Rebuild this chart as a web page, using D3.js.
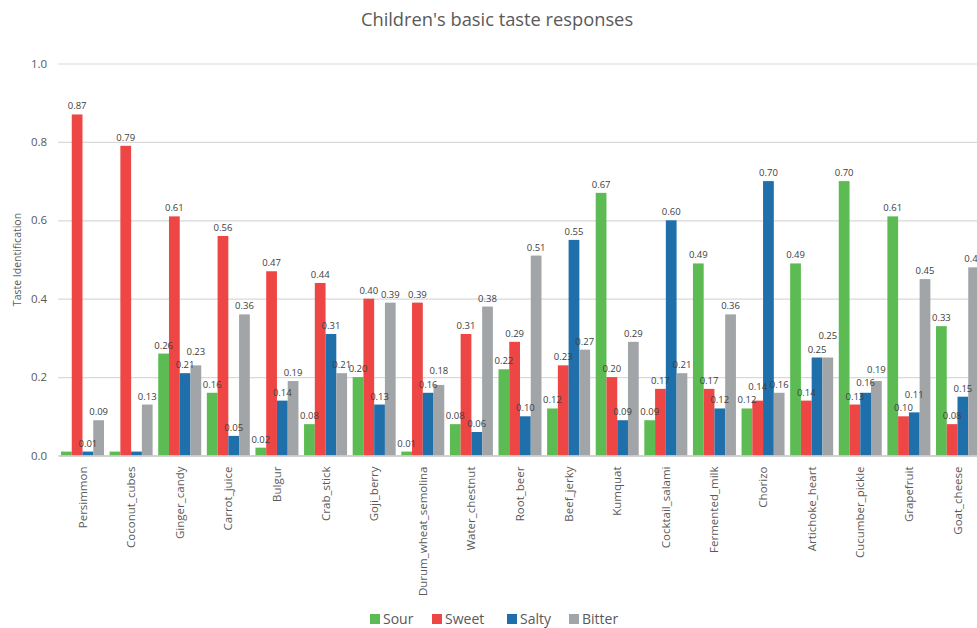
<!DOCTYPE html>
<html>
<head>
<meta charset="utf-8">
<script src="https://cdn.jsdelivr.net/npm/d3@7"></script>
<style>
  html, body { margin: 0; padding: 0; background: #fff; overflow: hidden; }
  svg { display: block; font-family: "Open Sans", "Noto Sans", sans-serif; }
</style>
</head>
<body>
<svg id="chart" width="977" height="628"></svg>
<script>
const categories = ["Persimmon","Coconut_cubes","Ginger_candy","Carrot_juice","Bulgur","Crab_stick","Goji_berry","Durum_wheat_semolina","Water_chestnut","Root_beer","Beef_jerky","Kumquat","Cocktail_salami","Fermented_milk","Chorizo","Artichoke_heart","Cucumber_pickle","Grapefruit","Goat_cheese"];
const seriesNames = ["Sour","Sweet","Salty","Bitter"];
const sour   = [0.01,0.01,0.26,0.16,0.02,0.08,0.20,0.01,0.08,0.22,0.12,0.67,0.09,0.49,0.12,0.49,0.70,0.61,0.33];
const sweet  = [0.87,0.79,0.61,0.56,0.47,0.44,0.40,0.39,0.31,0.29,0.23,0.20,0.17,0.17,0.14,0.14,0.13,0.10,0.08];
const salty  = [0.01,0.01,0.21,0.05,0.14,0.31,0.13,0.16,0.06,0.10,0.55,0.09,0.60,0.12,0.70,0.25,0.16,0.11,0.15];
const bitter = [0.09,0.13,0.23,0.36,0.19,0.21,0.39,0.18,0.38,0.51,0.27,0.29,0.21,0.36,0.16,0.25,0.19,0.45,0.48];
const yTicks = [0, 0.2, 0.4, 0.6, 0.8, 1.0];
const hiddenLabels = ["Persimmon|Sour", "Coconut_cubes|Sour", "Coconut_cubes|Salty"];
const colors = {Sour: "#5DBB53", Sweet: "#EE4644", Salty: "#1F6FAB", Bitter: "#A2A5A8"};
const title = "Children's basic taste responses";
const yTitle = "Taste Identification";

const valuesBySeries = {Sour: sour, Sweet: sweet, Salty: salty, Bitter: bitter};
const rows = categories.map((c, i) => ({
  cat: c,
  vals: seriesNames.map(s => ({series: s, cat: c, value: valuesBySeries[s][i]}))
}));

const svg = d3.select("#chart");
const plotLeft = 58.2, plotRight = 981.8, plotTop = 63.5, plotBottom = 455.5;

const x0 = d3.scaleBand().domain(categories).range([plotLeft, plotRight])
  .paddingInner(0.1154).paddingOuter(0.0577);
const x1 = d3.scaleBand().domain(seriesNames).range([0, x0.bandwidth()]);
const y = d3.scaleLinear().domain([0, 1]).range([plotBottom, plotTop]);

// Title
svg.append("text")
  .attr("x", 497).attr("y", 26)
  .attr("text-anchor", "middle")
  .attr("fill", "#595959")
  .style("font-size", "18.3px")
  .text(title);

// Y axis with gridlines
const yAxis = svg.append("g")
  .attr("transform", `translate(${plotLeft},0)`)
  .call(d3.axisLeft(y).tickValues(yTicks).tickFormat(d3.format(".1f"))
    .tickSize(-(plotRight - plotLeft)).tickPadding(11));
yAxis.select(".domain").remove();
yAxis.selectAll(".tick line").attr("stroke", "#D9D9D9").attr("stroke-width", 1.2);
yAxis.selectAll(".tick text").attr("fill", "#595959").style("font-size", "11.5px")
  .style("font-family", "'Open Sans', sans-serif");

// Y title
svg.append("text")
  .attr("transform", `translate(21,${(plotTop + plotBottom) / 2}) rotate(-90)`)
  .attr("text-anchor", "middle")
  .attr("fill", "#595959")
  .style("font-size", "10.5px")
  .text(yTitle);

// Bars
const groups = svg.append("g").selectAll("g").data(rows).join("g")
  .attr("transform", d => `translate(${x0(d.cat)},0)`);
groups.selectAll("rect").data(d => d.vals).join("rect")
  .attr("x", d => x1(d.series))
  .attr("y", d => y(d.value))
  .attr("width", x1.bandwidth())
  .attr("height", d => y(0) - y(d.value))
  .attr("fill", d => colors[d.series]);

// X axis
const xAxis = svg.append("g")
  .attr("transform", `translate(0,${plotBottom})`)
  .call(d3.axisBottom(x0).tickSize(0).tickPadding(0));
xAxis.select(".domain").attr("stroke", "#C8C8C8").attr("stroke-width", 1.5);
xAxis.selectAll(".tick text")
  .attr("transform", "rotate(-90)")
  .attr("text-anchor", "end")
  .attr("x", -11).attr("y", 0).attr("dy", "0.35em")
  .attr("fill", "#595959")
  .style("font-size", "11.5px")
  .style("font-family", "'Open Sans', sans-serif");

// Data labels with simple collision avoidance inside each group
groups.each(function(row) {
  const g = d3.select(this);
  const placed = [];
  row.vals.filter(v => !hiddenLabels.includes(v.cat + "|" + v.series)).forEach(v => {
    const t = g.append("text").attr("class", "lbl")
      .attr("x", x1(v.series) + x1.bandwidth() / 2)
      .attr("y", y(v.value) - 5)
      .attr("text-anchor", "middle")
      .attr("fill", "#404040")
      .style("font-size", "9.5px")
      .text(v.value.toFixed(2));
    let bb = t.node().getBBox();
    let moved = true, guard = 0;
    while (moved && guard++ < 20) {
      moved = false;
      for (const p of placed) {
        const ox = bb.x < p.x + p.width && bb.x + bb.width > p.x;
        const oy = bb.y < p.y + p.height && bb.y + bb.height > p.y;
        if (ox && oy) {
          const shift = (bb.y + bb.height) - p.y + 0.5;
          t.attr("y", +t.attr("y") - shift);
          bb = t.node().getBBox();
          moved = true;
        }
      }
    }
    placed.push(bb);
  });
});

// Legend
const legendItems = [
  {name: "Sour", x: 370},
  {name: "Sweet", x: 432},
  {name: "Salty", x: 507},
  {name: "Bitter", x: 569}
];
const lg = svg.append("g").selectAll("g").data(legendItems).join("g")
  .attr("transform", d => `translate(${d.x},614)`);
lg.append("rect").attr("width", 10).attr("height", 10).attr("fill", d => colors[d.name]);
lg.append("text").attr("x", 13).attr("y", 10.3)
  .attr("fill", "#595959").style("font-size", "14px")
  .text(d => d.name);
</script>
</body>
</html>
